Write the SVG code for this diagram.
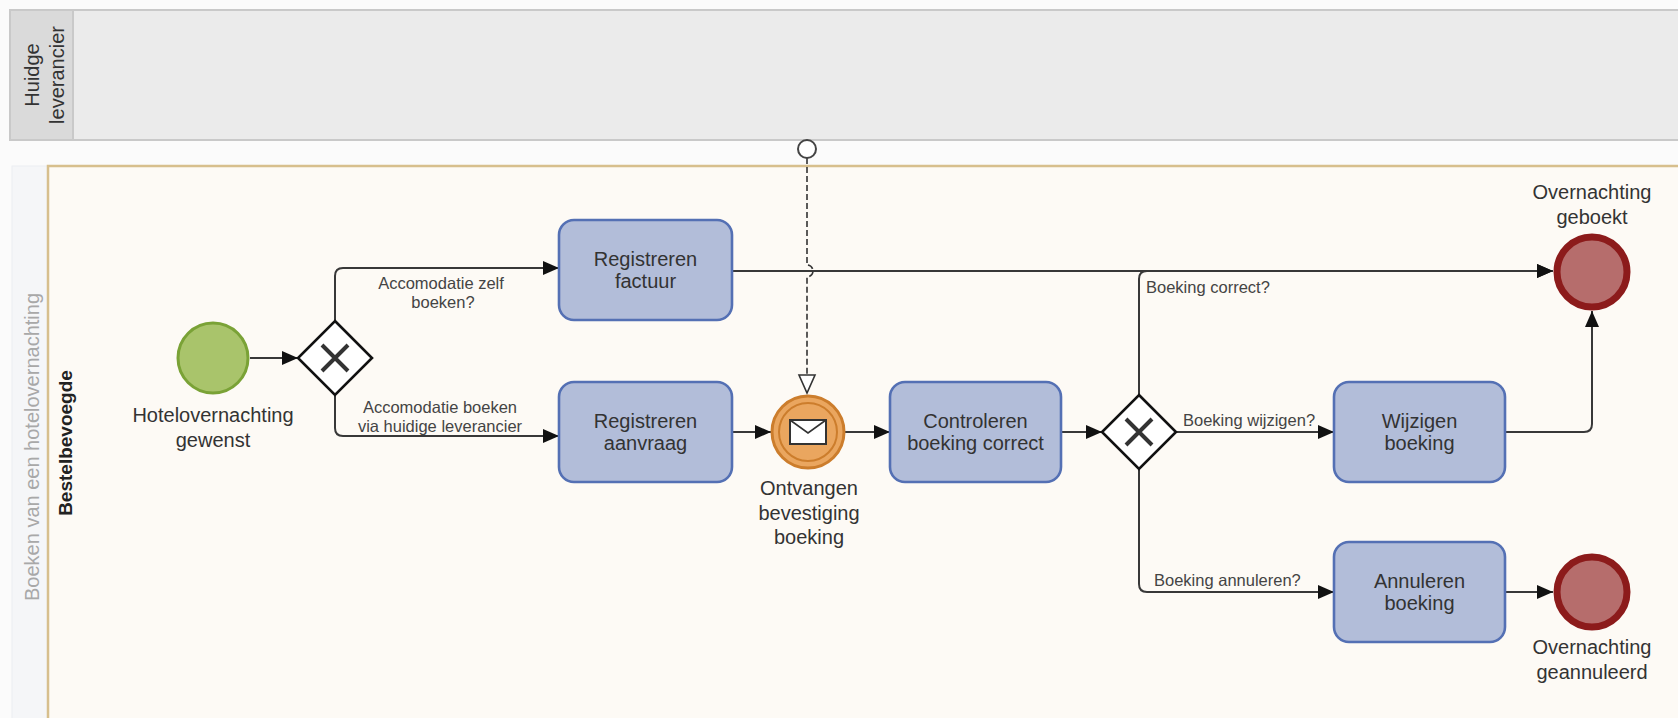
<svg xmlns="http://www.w3.org/2000/svg" width="1678" height="718" viewBox="0 0 1678 718">
<style>
text{font-family:"Liberation Sans",Arial,sans-serif;fill:#333}
.t{font-size:20px;text-anchor:middle}
.lbl{font-size:16.5px;fill:#444}
.task{fill:#b2bdd9;stroke:#5470b4;stroke-width:2.6}
.flow{fill:none;stroke:#383838;stroke-width:2}
.gw{fill:#fff;stroke:#111;stroke-width:2.6}
.gx{stroke:#333;stroke-width:4;stroke-linecap:butt}
.end{fill:#b66d6c;stroke:#8c1b1b;stroke-width:7}
</style>
<defs>
<marker id="arr" markerUnits="userSpaceOnUse" markerWidth="17" markerHeight="15" refX="16" refY="7" orient="auto">
<path d="M0,0 L16,7 L0,14 z" fill="#111"/>
</marker>
</defs>
<rect x="0" y="0" width="1678" height="718" fill="#fbfbfb"/>

<g id="pool-huidige-leverancier">
<rect x="10" y="10" width="1690" height="130" fill="#ebebeb" stroke="#c9c9c9" stroke-width="2"/>
<rect x="10" y="10" width="63" height="130" fill="#dadada" stroke="#c9c9c9" stroke-width="2"/>
<text class="t" transform="translate(39,75) rotate(-90)">Huidge</text>
<text class="t" transform="translate(64,75) rotate(-90)">leverancier</text>
</g>

<g id="pool-boeken">
<rect x="12" y="166" width="36" height="560" fill="#f5f6f8" stroke="#eceef2" stroke-width="1"/>
<text class="t" fill="#a6a6a6" style="fill:#a8a8a8" transform="translate(39,447) rotate(-90)">Boeken van een hotelovernachting</text>
</g>

<g id="lane-bestelbevoegde">
<rect x="48" y="166" width="1660" height="570" fill="#fdfaf5" stroke="#d7bf8d" stroke-width="2.5"/>
<text class="t" style="font-weight:bold;font-size:19px;fill:#222" transform="translate(72,443) rotate(-90)">Bestelbevoegde</text>
</g>

<g id="connectors">
<path class="flow" d="M250,358 H298" marker-end="url(#arr)"/>
<path class="flow" d="M335,321 V276 Q335,268 343,268 H559" marker-end="url(#arr)"/>
<path class="flow" d="M335,395 V428 Q335,436 343,436 H559" marker-end="url(#arr)"/>
<path class="flow" d="M732,271 H1553" marker-end="url(#arr)"/>
<path class="flow" d="M732,432 H771" marker-end="url(#arr)"/>
<path class="flow" d="M845,432 H890" marker-end="url(#arr)"/>
<path class="flow" d="M1061,432 H1102" marker-end="url(#arr)"/>
<path class="flow" d="M1139,395 V279 Q1139,271 1147,271 H1553" marker-end="url(#arr)"/>
<path class="flow" d="M1176,432 H1334" marker-end="url(#arr)"/>
<path class="flow" d="M1139,469 V584 Q1139,592 1147,592 H1334" marker-end="url(#arr)"/>
<path class="flow" d="M1505,432 H1584 Q1592,432 1592,424 V311" marker-end="url(#arr)"/>
<path class="flow" d="M1505,592 H1553" marker-end="url(#arr)"/>
<path d="M807,158 V265 A6,6 0 0 1 807,277 V375" fill="none" stroke="#333" stroke-width="1.6" stroke-dasharray="6,3"/>
<circle cx="807" cy="149" r="9" fill="#fff" stroke="#444" stroke-width="2"/>
<path d="M799,375 L815,375 L807,393 z" fill="#fff" stroke="#333" stroke-width="1.6"/>
<text class="lbl" x="441" y="289" text-anchor="middle">Accomodatie zelf</text>
<text class="lbl" x="443" y="308" text-anchor="middle">boeken?</text>
<text class="lbl" x="440" y="413" text-anchor="middle">Accomodatie boeken</text>
<text class="lbl" x="440" y="432" text-anchor="middle">via huidige leverancier</text>
<text class="lbl" x="1146" y="293">Boeking correct?</text>
<text class="lbl" x="1183" y="426">Boeking wijzigen?</text>
<text class="lbl" x="1154" y="586">Boeking annuleren?</text>
</g>

<g id="start-hotelovernachting-gewenst">
<circle cx="213" cy="358" r="35" fill="#a9c46b" stroke="#7aa236" stroke-width="3"/>
<text class="t" x="213" y="422">Hotelovernachting</text>
<text class="t" x="213" y="447">gewenst</text>
</g>

<g id="gateway-accomodatie">
<path class="gw" d="M335,321 L372,358 L335,395 L298,358 z"/>
<path class="gx" d="M322,345 L348,371 M348,345 L322,371"/>
</g>

<g id="task-registreren-factuur">
<rect class="task" x="559" y="220" width="173" height="100" rx="15"/>
<text class="t" x="645.5" y="266">Registreren</text>
<text class="t" x="645.5" y="288">factuur</text>
</g>

<g id="task-registreren-aanvraag">
<rect class="task" x="559" y="382" width="173" height="100" rx="15"/>
<text class="t" x="645.5" y="428">Registreren</text>
<text class="t" x="645.5" y="450">aanvraag</text>
</g>

<g id="event-ontvangen-bevestiging">
<circle cx="808" cy="432" r="36" fill="#eaa65f" stroke="#cc7d2c" stroke-width="3"/>
<circle cx="808" cy="432" r="29" fill="#eaa65f" stroke="#cc7d2c" stroke-width="2"/>
<rect x="790" y="420" width="36" height="24" fill="#fff" stroke="#333" stroke-width="2"/>
<path d="M790,420 L808,433 L826,420" fill="none" stroke="#333" stroke-width="1.6"/>
<text class="t" x="809" y="495">Ontvangen</text>
<text class="t" x="809" y="520">bevestiging</text>
<text class="t" x="809" y="544">boeking</text>
</g>

<g id="task-controleren-boeking">
<rect class="task" x="890" y="382" width="171" height="100" rx="15"/>
<text class="t" x="975.5" y="428">Controleren</text>
<text class="t" x="975.5" y="450">boeking correct</text>
</g>

<g id="gateway-boeking">
<path class="gw" d="M1139,395 L1176,432 L1139,469 L1102,432 z"/>
<path class="gx" d="M1126,419 L1152,445 M1152,419 L1126,445"/>
</g>

<g id="task-wijzigen-boeking">
<rect class="task" x="1334" y="382" width="171" height="100" rx="15"/>
<text class="t" x="1419.5" y="428">Wijzigen</text>
<text class="t" x="1419.5" y="450">boeking</text>
</g>

<g id="task-annuleren-boeking">
<rect class="task" x="1334" y="542" width="171" height="100" rx="15"/>
<text class="t" x="1419.5" y="588">Annuleren</text>
<text class="t" x="1419.5" y="610">boeking</text>
</g>

<g id="end-overnachting-geboekt">
<circle class="end" cx="1592" cy="272" r="35"/>
<text class="t" x="1592" y="199">Overnachting</text>
<text class="t" x="1592" y="224">geboekt</text>
</g>

<g id="end-overnachting-geannuleerd">
<circle class="end" cx="1592" cy="592" r="35"/>
<text class="t" x="1592" y="654">Overnachting</text>
<text class="t" x="1592" y="679">geannuleerd</text>
</g>
</svg>
